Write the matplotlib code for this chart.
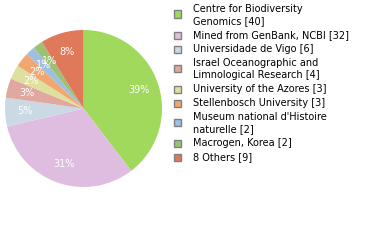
import math
import matplotlib
matplotlib.use("Agg")
import matplotlib.pyplot as plt
from matplotlib.patches import Rectangle

labels = ["Centre for Biodiversity\nGenomics [40]",
          "Mined from GenBank, NCBI [32]",
          "Universidade de Vigo [6]",
          "Israel Oceanographic and\nLimnological Research [4]",
          "University of the Azores [3]",
          "Stellenbosch University [3]",
          "Museum national d'Histoire\nnaturelle [2]",
          "Macrogen, Korea [2]",
          "8 Others [9]"]
values = [40, 32, 6, 4, 3, 3, 2, 2, 9]
colors = ["#a0d95c", "#dfbde0", "#cbd9e5", "#e0a89f", "#dfe09f",
          "#f0a870", "#9fbfe0", "#9bc274", "#e0785a"]

W, H = 380, 240
fig = plt.figure(figsize=(W / 100, H / 100), dpi=100)
cx, cy, r = 83.5, 108.5, 78.5
ax = fig.add_axes([(cx - r) / W, (H - cy - r) / H, 2 * r / W, 2 * r / H])
total = sum(values)

def fmt(p):
    return "%d%%" % math.floor(p + 1e-9)

wedges, texts = ax.pie(values, colors=colors, startangle=90, counterclock=False,
                       radius=1.0, wedgeprops=dict(linewidth=0))
for w, v in zip(wedges, values):
    ang = math.radians((w.theta1 + w.theta2) / 2)
    ax.text(0.75 * math.cos(ang), 0.75 * math.sin(ang), fmt(100 * v / total),
            ha="center", va="center", color="white", fontsize=7)
ax.set_xlim(-1, 1)
ax.set_ylim(-1, 1)
ax.set_aspect("equal")
ax.axis("off")

y = 9.0
line_h = 12.0
gap = 2.0
for lab, col in zip(labels, colors):
    n = lab.count("\n") + 1
    sq_c = y + 0.5 + (n - 1) * 4.5
    fig.patches.append(Rectangle((174 / W, (H - sq_c - 3.5) / H), 7 / W, 7 / H,
                                 transform=fig.transFigure, facecolor=col,
                                 edgecolor="#808080", linewidth=1.0))
    for i, line in enumerate(lab.split("\n")):
        fig.text(193 / W, (H - (y + i * line_h)) / H, line, fontsize=7,
                 va="center", ha="left", color="#000000")
    y += n * line_h + gap

fig.savefig("out.png", dpi=100)
